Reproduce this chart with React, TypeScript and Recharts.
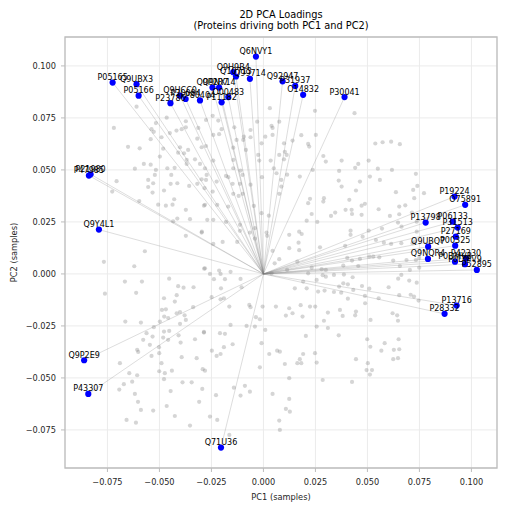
import React from 'react';
import {
  ScatterChart,
  Scatter,
  XAxis,
  YAxis,
  CartesianGrid,
  ReferenceLine,
  ReferenceArea,
} from 'recharts';

// Proteins with large loadings on both PC1 and PC2
const highlightNames = [
  'P05165', 'Q9UBX3', 'P05166', 'P23786', 'Q9HCC0', 'P30084', 'P80404', 'Q9P2R7',
  'Q9NX14', 'O00483', 'P11182', 'Q9H9B4', 'Q10713', 'Q99714', 'Q6NVY1', 'Q92947',
  'P31937', 'O14832', 'P30041', 'P19224', 'O75891', 'P13798', 'P06133', 'P31513',
  'P27169', 'P00325', 'Q9UBQ7', 'Q9NQR4', 'P42330', 'P0DMV8', 'P0DMV9', 'P52895',
  'P13716', 'P28332', 'Q71U36', 'Q9P2E9', 'P43307', 'Q9Y4L1', 'P21980', 'P47985',
];
const highlightPC1 = [
  -0.0725, -0.0610, -0.0600, -0.0447, -0.0401, -0.0374, -0.0305, -0.0245,
  -0.0213, -0.0169, -0.0201, -0.0145, -0.0132, -0.0065, -0.0036, 0.0092,
  0.0153, 0.0191, 0.0390, 0.0919, 0.0970, 0.0780, 0.0910, 0.0934,
  0.0925, 0.0922, 0.0792, 0.0791, 0.0974, 0.0921, 0.0969, 0.1026,
  0.0929, 0.0871, -0.0204, -0.0862, -0.0842, -0.0791, -0.0831, -0.0839,
];
const highlightPC2 = [
  0.0920, 0.0912, 0.0857, 0.0821, 0.0857, 0.0841, 0.0834, 0.0896,
  0.0896, 0.0850, 0.0825, 0.0970, 0.0949, 0.0938, 0.1045, 0.0926,
  0.0904, 0.0861, 0.0850, 0.0372, 0.0332, 0.0247, 0.0251, 0.0223,
  0.0179, 0.0136, 0.0131, 0.0072, 0.0075, 0.0059, 0.0047, 0.0019,
  -0.0152, -0.0192, -0.0835, -0.0415, -0.0577, 0.0213, 0.0479, 0.0473,
];

// All other proteins: [PC1, PC2] loadings
const otherLoadings: [number, number][] = [
  [-0.0610, 0.0804], [-0.0465, 0.0751], [-0.0719, 0.0702], [-0.0517, 0.0725], [-0.0538, 0.0696],
  [-0.0527, 0.0683], [-0.0490, 0.0657], [-0.0450, 0.0677], [-0.0418, 0.0689], [-0.0393, 0.0696],
  [-0.0373, 0.0705], [-0.0373, 0.0734], [-0.0542, 0.0648], [-0.0482, 0.0602], [-0.0401, 0.0609],
  [-0.0362, 0.0596], [-0.0410, 0.0583], [-0.0382, 0.0580], [-0.0651, 0.0611], [-0.0595, 0.0604],
  [-0.0498, 0.0564], [-0.0318, 0.0650], [-0.0313, 0.0702], [-0.0297, 0.0609], [-0.0329, 0.0551],
  [-0.0575, 0.0529], [-0.0542, 0.0525], [-0.0517, 0.0500], [-0.0618, 0.0506], [-0.0462, 0.0508],
  [-0.0427, 0.0510], [-0.0369, 0.0548], [-0.0369, 0.0529], [-0.0305, 0.0529], [-0.0522, 0.0476],
  [-0.0554, 0.0452], [-0.0530, 0.0436], [-0.0443, 0.0476], [-0.0446, 0.0433], [-0.0414, 0.0436],
  [-0.0357, 0.0423], [-0.0318, 0.0433], [-0.0297, 0.0455], [-0.0706, 0.0446], [-0.0554, 0.0418],
  [-0.0533, 0.0391], [-0.0727, 0.0396], [-0.0478, 0.0401], [-0.0597, 0.0350], [-0.0506, 0.0333],
  [-0.0469, 0.0328], [-0.0437, 0.0333], [-0.0429, 0.0359], [-0.0373, 0.0308], [-0.0286, 0.0328],
  [-0.0434, 0.0253], [-0.0414, 0.0266], [-0.0353, 0.0263], [-0.0297, 0.0199], [-0.0373, 0.0183],
  [-0.0285, 0.0025], [-0.0570, 0.0109], [-0.0767, 0.0058], [-0.0621, 0.0037], [-0.0762, -0.0095],
  [-0.0666, -0.0037], [-0.0584, -0.0037], [-0.0612, -0.0091], [-0.0453, -0.0023], [-0.0410, -0.0059],
  [-0.0417, -0.0102], [-0.0478, -0.0117], [-0.0426, -0.0133], [-0.0384, -0.0066], [-0.0336, -0.0064],
  [-0.0488, -0.0173], [-0.0469, -0.0170], [-0.0477, -0.0205], [-0.0458, -0.0212], [-0.0417, -0.0189],
  [-0.0401, -0.0183], [-0.0379, -0.0199], [-0.0338, -0.0160], [-0.0401, -0.0240], [-0.0373, -0.0221],
  [-0.0664, -0.0229], [-0.0589, -0.0234], [-0.0498, -0.0229], [-0.0527, -0.0256], [-0.0478, -0.0277],
  [-0.0453, -0.0274], [-0.0562, -0.0285], [-0.0533, -0.0301], [-0.0578, -0.0317], [-0.0408, -0.0295],
  [-0.0398, -0.0330], [-0.0458, -0.0317], [-0.0482, -0.0306], [-0.0329, -0.0314], [-0.0286, -0.0282],
  [-0.0546, -0.0341], [-0.0502, -0.0352], [-0.0607, -0.0365], [-0.0602, -0.0375], [-0.0501, -0.0381],
  [-0.0538, -0.0394], [-0.0393, -0.0400], [-0.0321, -0.0405], [-0.0690, -0.0429], [-0.0490, -0.0429],
  [-0.0292, -0.0458], [-0.0440, -0.0465], [-0.0501, -0.0468], [-0.0474, -0.0477], [-0.0645, -0.0477],
  [-0.0607, -0.0487], [-0.0478, -0.0506], [-0.0631, -0.0518], [-0.0671, -0.0530], [-0.0389, -0.0521],
  [-0.0345, -0.0521], [-0.0693, -0.0556], [-0.0446, -0.0563], [-0.0294, -0.0553], [-0.0618, -0.0577],
  [-0.0603, -0.0615], [-0.0309, -0.0615], [-0.0465, -0.0635], [-0.0589, -0.0654], [-0.0530, -0.0657],
  [-0.0426, -0.0683], [-0.0658, -0.0702], [-0.0613, -0.0715], [-0.0353, -0.0729],
  [0.0031, 0.0797], [0.0248, 0.0784], [-0.0244, 0.0760], [-0.0276, 0.0740], [-0.0217, 0.0737],
  [-0.0030, 0.0732], [0.0076, 0.0732], [0.0039, 0.0712], [0.0044, 0.0702], [-0.0201, 0.0696],
  [-0.0140, 0.0705], [-0.0062, 0.0692], [-0.0241, 0.0668], [-0.0213, 0.0672], [-0.0094, 0.0660],
  [-0.0062, 0.0657], [0.0009, 0.0660], [0.0044, 0.0668], [0.0182, 0.0667], [0.0252, 0.0668],
  [-0.0129, 0.0644], [-0.0097, 0.0644], [-0.0009, 0.0628], [0.0099, 0.0628], [0.0140, 0.0641],
  [0.0215, 0.0625], [0.0220, 0.0612], [-0.0276, 0.0615], [-0.0145, 0.0607], [-0.0084, 0.0596],
  [0.0103, 0.0587], [-0.0025, 0.0572], [0.0076, 0.0572], [0.0288, 0.0567], [-0.0241, 0.0545],
  [-0.0145, 0.0548], [-0.0020, 0.0545], [0.0035, 0.0545], [0.0099, 0.0551], [0.0112, 0.0572],
  [-0.0281, 0.0508], [-0.0145, 0.0508], [-0.0110, 0.0497], [0.0050, 0.0508], [0.0237, 0.0500],
  [-0.0273, 0.0476], [-0.0180, 0.0471], [-0.0169, 0.0465], [-0.0100, 0.0476], [0.0063, 0.0484],
  [-0.0276, 0.0452], [-0.0225, 0.0444], [-0.0148, 0.0433], [-0.0113, 0.0433], [-0.0062, 0.0429],
  [-0.0007, 0.0465], [0.0086, 0.0452], [0.0114, 0.0477], [0.0175, 0.0468], [-0.0283, 0.0412],
  [-0.0244, 0.0396], [-0.0145, 0.0385], [-0.0100, 0.0385], [-0.0119, 0.0375], [0.0076, 0.0385],
  [0.0086, 0.0420], [0.0224, 0.0361], [0.0215, 0.0340], [-0.0281, 0.0332], [-0.0222, 0.0332],
  [-0.0169, 0.0324], [-0.0046, 0.0327], [0.0232, 0.0288], [-0.0009, 0.0292], [0.0026, 0.0280],
  [-0.0270, 0.0260], [-0.0241, 0.0260], [-0.0180, 0.0250], [-0.0113, 0.0236], [0.0208, 0.0256],
  [0.0259, 0.0250], [-0.0113, 0.0207], [-0.0041, 0.0220], [-0.0065, 0.0199], [-0.0296, 0.0203],
  [0.0015, 0.0199], [0.0172, 0.0203], [0.0184, 0.0192], [0.0124, 0.0188], [0.0018, 0.0183],
  [-0.0041, 0.0170], [-0.0241, 0.0144], [-0.0196, 0.0154], [-0.0126, 0.0154], [0.0169, 0.0150],
  [0.0044, 0.0111], [0.0124, 0.0124], [0.0172, 0.0114], [0.0054, 0.0051], [0.0076, 0.0071],
  [0.0163, 0.0059], [0.0232, 0.0030], [-0.0281, 0.0027], [-0.0213, 0.0016], [-0.0158, 0.0010],
  [-0.0257, 0.0000], [-0.0206, 0.0000], [0.0114, 0.0019], [0.0039, 0.0003], [0.0215, 0.0003],
  [0.0285, -0.0006], [-0.0238, -0.0025], [-0.0185, -0.0025], [-0.0110, -0.0024], [0.0191, -0.0037],
  [0.0256, -0.0029], [0.0151, -0.0069], [0.0208, -0.0069], [0.0263, -0.0085], [-0.0204, -0.0069],
  [-0.0105, -0.0064], [-0.0249, -0.0112], [-0.0206, -0.0122], [-0.0190, -0.0117], [-0.0164, -0.0157],
  [-0.0068, -0.0149], [-0.0062, -0.0160], [-0.0004, -0.0157], [0.0060, -0.0157], [0.0124, -0.0165],
  [0.0179, -0.0150], [0.0224, -0.0157], [0.0249, -0.0157], [0.0108, -0.0200], [0.0140, -0.0189],
  [0.0188, -0.0205], [-0.0036, -0.0208], [-0.0017, -0.0218], [-0.0081, -0.0250], [-0.0041, -0.0253],
  [0.0009, -0.0269], [-0.0158, -0.0245], [-0.0209, -0.0285], [-0.0185, -0.0288], [-0.0286, -0.0279],
  [0.0204, -0.0298], [0.0256, -0.0253], [-0.0009, -0.0333], [-0.0148, -0.0338], [-0.0190, -0.0352],
  [0.0066, -0.0369], [0.0079, -0.0374], [-0.0248, -0.0369], [0.0028, -0.0385], [-0.0206, -0.0385],
  [-0.0225, -0.0394], [0.0191, -0.0385], [0.0248, -0.0381], [0.0175, -0.0410], [0.0163, -0.0429],
  [0.0182, -0.0429], [0.0256, -0.0426], [0.0103, -0.0433], [-0.0017, -0.0449], [-0.0281, -0.0465],
  [0.0124, -0.0501], [0.0285, -0.0510], [-0.0089, -0.0538], [-0.0142, -0.0547], [-0.0065, -0.0566],
  [-0.0228, -0.0583], [-0.0110, -0.0585], [0.0044, -0.0577], [0.0124, -0.0601], [0.0108, -0.0649],
  [0.0127, -0.0662], [-0.0257, -0.0686], [-0.0222, -0.0702], [0.0076, -0.0705], [0.0079, -0.0750],
  [-0.0164, -0.0774],
  [0.0438, 0.0773], [0.0538, 0.0627], [0.0573, 0.0633], [0.0614, 0.0636], [0.0656, 0.0624],
  [0.0300, 0.0540], [0.0376, 0.0545], [0.0506, 0.0545], [0.0456, 0.0529], [0.0441, 0.0510],
  [0.0364, 0.0495], [0.0550, 0.0506], [0.0618, 0.0500], [0.0512, 0.0468], [0.0560, 0.0452],
  [0.0464, 0.0444], [0.0362, 0.0449], [0.0376, 0.0420], [0.0445, 0.0401], [0.0733, 0.0481],
  [0.0740, 0.0423], [0.0637, 0.0393], [0.0772, 0.0388], [0.0725, 0.0364], [0.0291, 0.0364],
  [0.0288, 0.0348], [0.0413, 0.0356], [0.0488, 0.0337], [0.0472, 0.0328], [0.0653, 0.0324],
  [0.0682, 0.0330], [0.0345, 0.0295], [0.0325, 0.0279], [0.0395, 0.0308], [0.0424, 0.0308],
  [0.0426, 0.0288], [0.0472, 0.0284], [0.0554, 0.0311], [0.0608, 0.0279], [0.0653, 0.0287],
  [0.0714, 0.0295], [0.0647, 0.0247], [0.0664, 0.0227], [0.0570, 0.0218], [0.0506, 0.0208],
  [0.0477, 0.0179], [0.0419, 0.0208], [0.0419, 0.0188], [0.0541, 0.0163], [0.0579, 0.0150],
  [0.0393, 0.0135], [0.0737, 0.0203], [0.0614, 0.0144], [0.0663, 0.0148], [0.0717, 0.0148],
  [0.0272, 0.0128], [0.0509, 0.0083], [0.0528, 0.0083], [0.0557, 0.0080], [0.0403, 0.0077],
  [0.0464, 0.0072], [0.0426, 0.0064], [0.0624, 0.0064], [0.0688, 0.0067], [0.0749, 0.0077],
  [0.0456, 0.0038], [0.0384, 0.0040], [0.0656, 0.0038], [0.0704, 0.0019], [0.0749, 0.0030],
  [0.0280, 0.0023], [0.0300, 0.0019], [0.0339, -0.0005], [0.0387, -0.0003], [0.0429, -0.0016],
  [0.0300, -0.0013], [0.0648, -0.0023], [0.0663, -0.0005], [0.0701, -0.0032], [0.0737, -0.0042],
  [0.0384, -0.0045], [0.0406, -0.0050], [0.0364, -0.0061], [0.0294, -0.0080], [0.0339, -0.0087],
  [0.0374, -0.0090], [0.0406, -0.0119], [0.0432, -0.0077], [0.0474, -0.0058], [0.0509, -0.0071],
  [0.0488, -0.0106], [0.0554, -0.0117], [0.0489, -0.0141], [0.0602, -0.0064], [0.0653, -0.0102],
  [0.0708, -0.0100], [0.0724, -0.0109], [0.0746, -0.0128], [0.0368, -0.0173], [0.0381, -0.0202],
  [0.0310, -0.0186], [0.0291, -0.0225], [0.0310, -0.0260], [0.0445, -0.0181], [0.0441, -0.0199],
  [0.0515, -0.0221], [0.0621, -0.0189], [0.0643, -0.0199], [0.0647, -0.0225], [0.0362, -0.0295],
  [0.0499, -0.0314], [0.0514, -0.0350], [0.0583, -0.0333], [0.0567, -0.0369], [0.0627, -0.0365],
  [0.0650, -0.0314], [0.0653, -0.0362], [0.0445, -0.0410], [0.0502, -0.0429], [0.0496, -0.0462],
  [0.0522, -0.0462], [0.0512, -0.0484], [0.0624, -0.0410], [0.0647, -0.0405], [0.0426, -0.0519],
  [0.0720, 0.0404], [0.0737, 0.0251], [0.0728, 0.0155], [0.0733, 0.0067],
];

const xTicks = [-0.075, -0.05, -0.025, 0, 0.025, 0.05, 0.075, 0.1];
const yTicks = [-0.075, -0.05, -0.025, 0, 0.025, 0.05, 0.075, 0.1];
const xDomain: [number, number] = [-0.0954, 0.1123];
const yDomain: [number, number] = [-0.0933, 0.1139];

const FONT = "'DejaVu Sans', sans-serif";

const backgroundData = otherLoadings.map(([pc1, pc2]) => ({ pc1, pc2 }));
const highlightData = highlightNames.map((name, i) => ({
  name,
  pc1: highlightPC1[i],
  pc2: highlightPC2[i],
}));

const fmt = (v: number) => (v < 0 ? '\u2212' : '') + Math.abs(v).toFixed(3);

const GrayDot = (props: any) => (
  <circle cx={props.cx} cy={props.cy} r={2.1} fill="#808080" fillOpacity={0.33} />
);
const BlueDot = (props: any) => (
  <circle cx={props.cx} cy={props.cy} r={3.1} fill="#0000ff" />
);
const NameTag = (props: any) => (
  <text
    x={props.cx}
    y={props.cy - 2.5}
    textAnchor="middle"
    fontSize={8}
    fontFamily={FONT}
    fill="#000"
  >
    {props.payload.name}
  </text>
);

export default function App() {
  return (
    <div style={{ width: 503, height: 503 }}>
      <ScatterChart
        width={503}
        height={503}
        margin={{ top: 29, right: 14, left: 0, bottom: 13 }}
      >
        <CartesianGrid stroke="#ebebeb" strokeWidth={1} />
        <XAxis
          type="number"
          dataKey="pc1"
          domain={xDomain}
          ticks={xTicks}
          allowDataOverflow
          tickFormatter={fmt}
          height={30}
          axisLine={false}
          tickSize={4}
          tickMargin={7}
          tickLine={{ stroke: '#bdbdbd' }}
          tick={{ fontSize: 8.2, fontFamily: FONT, fill: '#262626' }}
        />
        <YAxis
          type="number"
          dataKey="pc2"
          domain={yDomain}
          ticks={yTicks}
          allowDataOverflow
          tickFormatter={fmt}
          width={57}
          axisLine={false}
          tickSize={4}
          tickMargin={5}
          tickLine={{ stroke: '#bdbdbd' }}
          tick={{ fontSize: 8.2, fontFamily: FONT, fill: '#262626' }}
        />
        {highlightData.map((d) => (
          <ReferenceLine
            key={'ray-' + d.name}
            segment={[{ x: 0, y: 0 }, { x: d.pc1, y: d.pc2 }]}
            stroke="#808080"
            strokeOpacity={0.45}
            strokeWidth={0.6}
            ifOverflow="visible"
          />
        ))}
        <Scatter
          data={backgroundData}
          shape={GrayDot}
          isAnimationActive={false}
        />
        <Scatter
          data={highlightData}
          shape={BlueDot}
          isAnimationActive={false}
        />
        <Scatter
          data={highlightData}
          shape={NameTag}
          isAnimationActive={false}
        />
        <ReferenceArea
          x1={xDomain[0]}
          x2={xDomain[1]}
          y1={yDomain[0]}
          y2={yDomain[1]}
          fill="none"
          stroke="#bdbdbd"
          strokeWidth={1.3}
          ifOverflow="visible"
        />
        <text x={273} y={9.5} textAnchor="middle" fontSize={9.8} fontFamily={FONT} fill="#000">
          2D PCA Loadings
        </text>
        <text x={273} y={21.3} textAnchor="middle" fontSize={9.8} fontFamily={FONT} fill="#000">
          (Proteins driving both PC1 and PC2)
        </text>
        <text x={273} y={491.5} textAnchor="middle" fontSize={8.25} fontFamily={FONT} fill="#262626">
          PC1 (samples)
        </text>
        <text
          x={0}
          y={0}
          transform="translate(9, 244.5) rotate(-90)"
          textAnchor="middle"
          fontSize={8.25}
          fontFamily={FONT}
          fill="#262626"
        >
          PC2 (samples)
        </text>
      </ScatterChart>
    </div>
  );
}
